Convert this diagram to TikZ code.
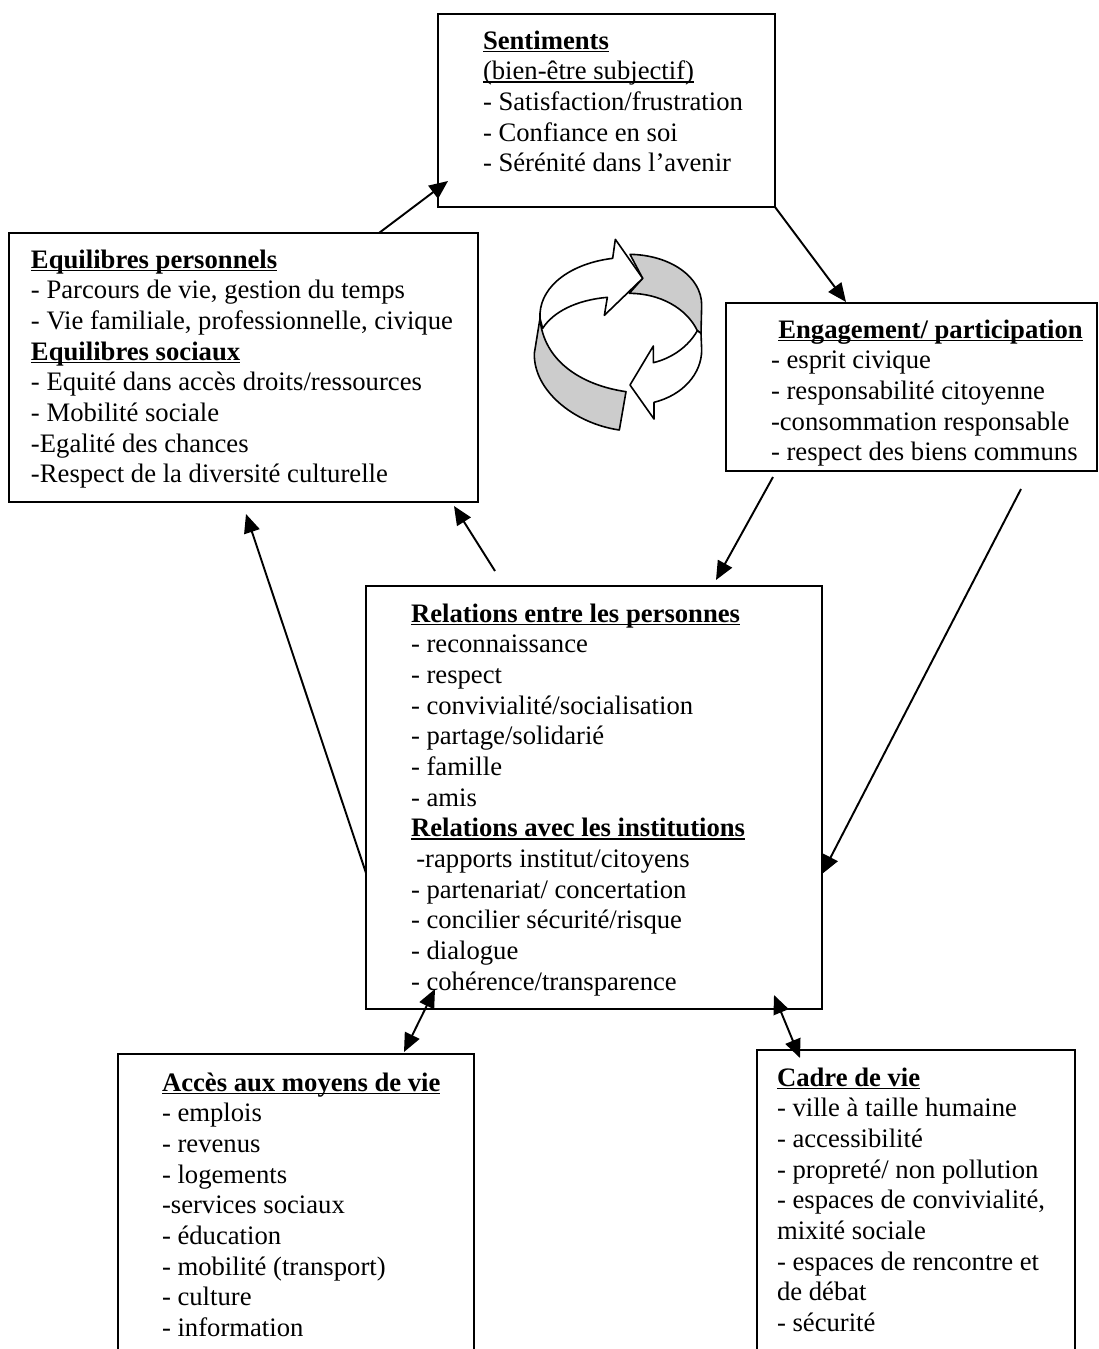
\documentclass[tikz,border=0pt]{standalone}
\usepackage{fontspec}
\setmainfont{Liberation Serif}
\usetikzlibrary{arrows.meta}
\newcommand{\firststrut}{\rule{0pt}{15pt}}
\newsavebox{\ulbox}
\newcommand{\ulthick}[1]{\sbox{\ulbox}{#1}\rlap{\usebox{\ulbox}}\rule[-2.6pt]{\wd\ulbox}{1.3pt}}
\newcommand{\ttl}[1]{\ulthick{\textbf{#1}}}
\tikzset{
  box/.style={draw=black,line width=1.3pt,fill=white,anchor=north west,inner sep=0pt,outer sep=0pt},
  txt/.style={anchor=north west,inner sep=0pt,outer sep=0pt,align=left,font=\fontsize{20}{23}\selectfont},
  conn/.style={line width=1.45pt,-{Triangle[length=14pt,width=12pt]}},
  conn2/.style={line width=1.45pt,{Triangle[length=14pt,width=12pt]}-{Triangle[length=14pt,width=12pt]}},
  ring/.style={line width=1.2pt,line join=round},
}
\begin{document}
\begin{tikzpicture}[x=0.75pt,y=-0.75pt]
\useasboundingbox (0,0) rectangle (1099,1349);
\clip (0,0) rectangle (1099,1349);
\fill[white] (0,0) rectangle (1099,1349);
% boxes
\node[box,minimum width=337*0.75pt,minimum height=193*0.75pt] (sent) at (438,14) {};
\node[box,minimum width=469*0.75pt,minimum height=269*0.75pt] (equi) at (9,233) {};
\node[box,minimum width=371*0.75pt,minimum height=168*0.75pt] (enga) at (726,303) {};
\node[box,minimum width=456*0.75pt,minimum height=423*0.75pt] (rela) at (366,586) {};
\node[box,minimum width=356*0.75pt,minimum height=320*0.75pt] (acce) at (118,1054) {};
\node[box,minimum width=318*0.75pt,minimum height=320*0.75pt] (cadr) at (757,1050) {};
% texts
\node[txt] (sentT) at (483,29) {\firststrut\ttl{Sentiments}\\\ulthick{(bien-être subjectif)}\\- Satisfaction/frustration\\- Confiance en soi\\- Sérénité dans l’avenir};
\node[txt] (equiT) at (31,248) {\firststrut\ttl{Equilibres personnels}\\- Parcours de vie, gestion du temps\\- Vie familiale, professionnelle, civique\\\ttl{Equilibres sociaux}\\- Equité dans accès droits/ressources\\- Mobilité sociale\\-Egalité des chances\\-Respect de la diversité culturelle};
\node[txt] (engaT) at (771,318) {\firststrut\hspace*{5.5pt}\ttl{Engagement/ participation}\\- esprit civique\\- responsabilité citoyenne\\-consommation responsable\\- respect des biens communs};
\node[txt] (relaT) at (411,602) {\firststrut\ttl{Relations entre les personnes}\\- reconnaissance\\- respect\\- convivialité/socialisation\\- partage/solidarié\\- famille\\- amis\\\ttl{Relations avec les institutions}\\\hspace*{4pt}-rapports institut/citoyens\\- partenariat/ concertation\\- concilier sécurité/risque\\- dialogue\\- cohérence/transparence};
\node[txt] (acceT) at (162,1071) {\firststrut\ttl{Accès aux moyens de vie}\\- emplois\\- revenus\\- logements\\-services sociaux\\- éducation\\- mobilité (transport)\\- culture\\- information};
\node[txt] (cadrT) at (777,1066) {\firststrut\ttl{Cadre de vie}\\- ville à taille humaine\\- accessibilité\\- propreté/ non pollution\\- espaces de convivialité,\\mixité sociale\\- espaces de rencontre et\\de débat\\- sécurité};
% connector ends
\coordinate (a1) at (379,233); \coordinate (a2) at (448,181);
\coordinate (b1) at (sent.south east); \coordinate (b2) at (846,302);
\coordinate (c1) at (773,477); \coordinate (c2) at (716,580);
\coordinate (d1) at (1021,489); \coordinate (d2) at (822,874);
\coordinate (e1) at (495,571); \coordinate (e2) at (454,506);
\coordinate (f1) at (366,873); \coordinate (f2) at (246,514);
\coordinate (g1) at (435,989); \coordinate (g2) at (404,1052);
\coordinate (h1) at (774,995); \coordinate (h2) at (800,1058);
\draw[conn] (a1) -- (a2);
\draw[conn] (b1) -- (b2);
\draw[conn] (c1) -- (c2);
\draw[conn] (d1) -- (d2);
\draw[conn] (e1) -- (e2);
\draw[conn] (f1) -- (f2);
\draw[conn2] (g1) -- (g2);
\draw[conn2] (h1) -- (h2);
% cycle symbol
\begin{scope}[shift={(500,210)},x=0.25pt,y=-0.25pt]
\draw[ring,fill=black!20] (390,133) .. controls (510,135) and (605,200) .. (605,285) -- (603,370) -- (592,362) .. controls (560,295) and (480,250) .. (388,250) -- (428,205) -- cycle;
\draw[ring,fill=black!20] (120,325) -- (103,430) .. controls (100,540) and (220,640) .. (358,660) -- (378,545) .. controls (240,525) and (130,450) .. (120,325) -- cycle;
\draw[ring,fill=white] (120,310) .. controls (125,225) and (215,160) .. (338,145) -- (346,88) -- (428,205) -- (313,316) -- (322,262) .. controls (230,270) and (160,305) .. (128,355) -- (120,325) -- cycle;
\draw[ring,fill=white] (592,362) .. controls (565,410) and (515,445) .. (460,458) -- (460,408) -- (390,525) -- (462,627) -- (462,577) .. controls (550,555) and (605,490) .. (605,420) -- (603,370) -- cycle;
\end{scope}
\end{tikzpicture}
\end{document}
